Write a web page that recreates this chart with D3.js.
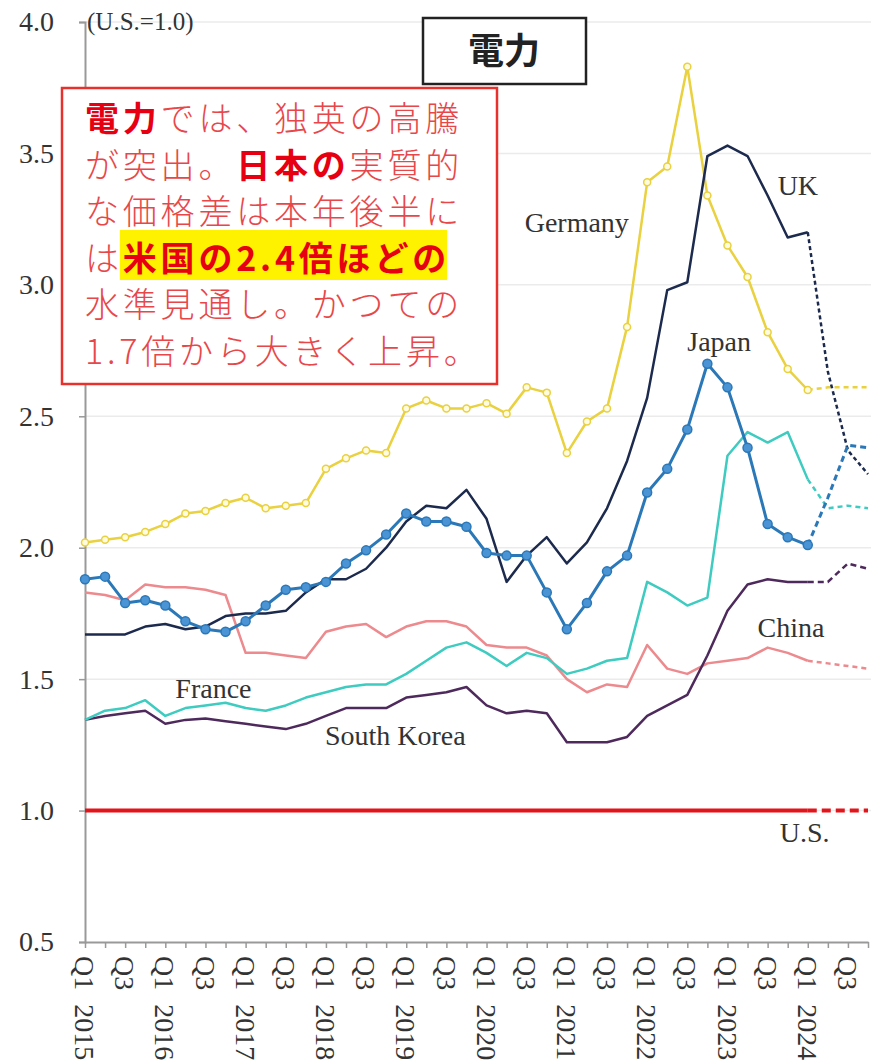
<!DOCTYPE html>
<html lang="ja">
<head>
<meta charset="UTF-8">
<title>電力</title>
<script src="https://d3js.org/d3.v7.min.js"></script>
<style>
  body { margin: 0; background: #fff; }
  .serif { font-family: "Liberation Serif", "DejaVu Serif", serif; fill: #333; }
  .note { font-family: "Noto Sans CJK JP", sans-serif; font-size: 34px; font-weight: 300; letter-spacing: 3.8px; fill: #e8474a; }
  .note .em { font-weight: bold; fill: #e60012; }
</style>
</head>
<body>
<div id="chart"></div>
<script>

// categories
var years = [2015, 2016, 2017, 2018, 2019, 2020, 2021, 2022, 2023, 2024];
var quarterNames = ["Q1", "Q2", "Q3", "Q4"];
var quarters = [];
years.forEach(function(yr) {
  quarterNames.forEach(function(q) { quarters.push(q + " " + yr); });
});

var yTicks = [0.5, 1.0, 1.5, 2.0, 2.5, 3.0, 3.5, 4.0];

// relative electricity price (U.S.=1.0), Q1 2015 .. Q4 2024
var germany = [2.02, 2.03, 2.04, 2.06, 2.09, 2.13, 2.14, 2.17, 2.19, 2.15, 2.16, 2.17,
               2.30, 2.34, 2.37, 2.36, 2.53, 2.56, 2.53, 2.53, 2.55, 2.51, 2.61, 2.59,
               2.36, 2.48, 2.53, 2.84, 3.39, 3.45, 3.83, 3.34, 3.15, 3.03, 2.82, 2.68,
               2.60, 2.61, 2.61, 2.61];
var uk = [1.67, 1.67, 1.67, 1.70, 1.71, 1.69, 1.70, 1.74, 1.75, 1.75, 1.76, 1.83,
          1.88, 1.88, 1.92, 2.00, 2.10, 2.16, 2.15, 2.22, 2.11, 1.87, 1.97, 2.04,
          1.94, 2.02, 2.15, 2.33, 2.57, 2.98, 3.01, 3.49, 3.53, 3.49, 3.34, 3.18,
          3.20, 2.67, 2.37, 2.28];
var japan = [1.88, 1.89, 1.79, 1.80, 1.78, 1.72, 1.69, 1.68, 1.72, 1.78, 1.84, 1.85,
             1.87, 1.94, 1.99, 2.05, 2.13, 2.10, 2.10, 2.08, 1.98, 1.97, 1.97, 1.83,
             1.69, 1.79, 1.91, 1.97, 2.21, 2.30, 2.45, 2.70, 2.61, 2.38, 2.09, 2.04,
             2.01, 2.19, 2.39, 2.38];
var france = [1.345, 1.38, 1.39, 1.42, 1.36, 1.39, 1.40, 1.41, 1.39, 1.38, 1.40, 1.43,
              1.45, 1.47, 1.48, 1.48, 1.52, 1.57, 1.62, 1.64, 1.60, 1.55, 1.60, 1.58,
              1.52, 1.54, 1.57, 1.58, 1.87, 1.83, 1.78, 1.81, 2.35, 2.44, 2.40, 2.44,
              2.26, 2.15, 2.16, 2.15];
var china = [1.83, 1.82, 1.80, 1.86, 1.85, 1.85, 1.84, 1.82, 1.60, 1.60, 1.59, 1.58,
             1.68, 1.70, 1.71, 1.66, 1.70, 1.72, 1.72, 1.70, 1.63, 1.62, 1.62, 1.59,
             1.50, 1.45, 1.48, 1.47, 1.63, 1.54, 1.52, 1.56, 1.57, 1.58, 1.62, 1.60,
             1.57, 1.56, 1.55, 1.54];
var southKorea = [1.345, 1.36, 1.37, 1.38, 1.33, 1.345, 1.35, 1.34, 1.33, 1.32, 1.31, 1.33,
                  1.36, 1.39, 1.39, 1.39, 1.43, 1.44, 1.45, 1.47, 1.40, 1.37, 1.38, 1.37,
                  1.26, 1.26, 1.26, 1.28, 1.36, 1.40, 1.44, 1.59, 1.76, 1.86, 1.88, 1.87,
                  1.87, 1.87, 1.94, 1.92];
var us = quarters.map(function() { return 1.0; });

// Q1 2024 onwards is projection (dashed)
var forecastFrom = 36;

var width = 884, height = 1064;

var svg = d3.select("#chart").append("svg")
    .attr("width", width)
    .attr("height", height);

var x = d3.scalePoint().domain(quarters).range([85, 868]);
var y = d3.scaleLinear().domain([0.5, 4.0]).range([942, 22]);

function xAt(q) { return x(quarters[0]) + q * x.step(); }

// gridlines
svg.append("g")
  .selectAll("line")
  .data(yTicks.slice(1))
  .enter().append("line")
    .attr("x1", x.range()[0]).attr("x2", x.range()[1] + 3)
    .attr("y1", function(d) { return y(d); })
    .attr("y2", function(d) { return y(d); })
    .style("stroke", "#ebebeb")
    .style("stroke-width", 1.5);

// y axis
var yAxis = svg.append("g")
    .attr("transform", "translate(" + x.range()[0] + ",0)")
    .call(d3.axisLeft(y).tickValues(yTicks).tickFormat(d3.format(".1f")).tickSize(6).tickPadding(25));
yAxis.select(".domain").style("stroke", "#999").style("stroke-width", 2);
yAxis.selectAll(".tick line").style("stroke", "#999").style("stroke-width", 1.5);
yAxis.selectAll("text")
    .style("font-family", "'Liberation Serif', serif")
    .style("font-size", "28px")
    .style("fill", "#333");

// x axis
var xAxis = svg.append("g")
    .attr("transform", "translate(0," + y(0.5) + ")")
    .call(d3.axisBottom(x).tickFormat("").tickSize(6).tickSizeOuter(0));
xAxis.select(".domain").style("stroke", "#999").style("stroke-width", 2);
xAxis.selectAll(".tick line").style("stroke", "#999").style("stroke-width", 1.5);

var xLabels = svg.append("g")
  .selectAll("g")
  .data(quarters.filter(function(q) { return q.indexOf("Q1") === 0 || q.indexOf("Q3") === 0; }))
  .enter().append("g")
    .attr("transform", function(d) { return "translate(" + x(d) + "," + (y(0.5) + 14) + ") rotate(90)"; });
var xText = xLabels.append("text")
    .attr("class", "serif")
    .attr("dy", "0.35em")
    .style("font-size", "28px")
    .text(function(d) { return d.split(" ")[0]; });
xText.filter(function(d) { return d.indexOf("Q1") === 0; })
  .append("tspan")
    .attr("dx", 14)
    .text(function(d) { return d.split(" ")[1]; });

svg.append("text")
    .attr("class", "serif")
    .attr("x", 87).attr("y", 30)
    .style("font-size", "25px")
    .text("(U.S.=1.0)");

// series
var series = [
  {name: "China", values: china, color: "#ec8a8e", width: 2.5, dash: "5,4"},
  {name: "South Korea", values: southKorea, color: "#4e2a5c", width: 2.5, dash: "6,4"},
  {name: "France", values: france, color: "#3ecbc0", width: 2.5, dash: "5,4"},
  {name: "Germany", values: germany, color: "#e9d13f", width: 2.5, dash: "5,4", marker: "hollow"},
  {name: "UK", values: uk, color: "#1c2a4e", width: 2.5, dash: "4,3"},
  {name: "Japan", values: japan, color: "#2b78b8", width: 3, dash: "6,4", marker: "filled"},
  {name: "U.S.", values: us, color: "#e4141b", width: 4, dash: "9,5"}
];

var line = d3.line()
    .x(function(d) { return x(quarters[d.i]); })
    .y(function(d) { return y(d.v); });

series.forEach(function(s) {
  var pts = s.values.map(function(v, i) { return {i: i, v: v}; });
  var g = svg.append("g");
  g.append("path")
      .datum(pts.slice(0, forecastFrom + 1))
      .attr("d", line)
      .style("fill", "none")
      .style("stroke", s.color)
      .style("stroke-width", s.width)
      .style("stroke-linejoin", "round");
  g.append("path")
      .datum(pts.slice(forecastFrom))
      .attr("d", line)
      .style("fill", "none")
      .style("stroke", s.color)
      .style("stroke-width", s.width)
      .style("stroke-dasharray", s.dash);
  if (s.marker) {
    g.selectAll("circle")
      .data(pts.slice(0, forecastFrom + 1))
      .enter().append("circle")
        .attr("cx", function(d) { return x(quarters[d.i]); })
        .attr("cy", function(d) { return y(d.v); })
        .attr("r", s.marker === "filled" ? 4.5 : 3.5)
        .style("fill", s.marker === "filled" ? "#4a93d4" : "#fffbe0")
        .style("stroke", s.color)
        .style("stroke-width", 1.5);
  }
});

// series labels
var labels = [
  {text: "Germany", q: 21.9, v: 3.2},
  {text: "UK", q: 34.5, v: 3.34},
  {text: "Japan", q: 30.0, v: 2.75},
  {text: "China", q: 33.5, v: 1.66},
  {text: "France", q: 4.5, v: 1.43},
  {text: "South Korea", q: 11.95, v: 1.25},
  {text: "U.S.", q: 34.6, v: 0.88}
];
svg.append("g")
  .selectAll("text")
  .data(labels)
  .enter().append("text")
    .attr("class", "serif")
    .attr("x", function(d) { return xAt(d.q); })
    .attr("y", function(d) { return y(d.v); })
    .style("font-size", "28px")
    .text(function(d) { return d.text; });

// title box
svg.append("rect")
    .attr("x", 423).attr("y", 18).attr("width", 163).attr("height", 66)
    .style("fill", "#fff").style("stroke", "#222").style("stroke-width", 2.5);
svg.append("text")
    .attr("x", 504).attr("y", 64)
    .attr("text-anchor", "middle")
    .style("font-family", "'Noto Sans CJK JP', sans-serif")
    .style("font-size", "36px").style("font-weight", "bold").style("fill", "#222")
    .text("電力");

// note box
svg.append("rect")
    .attr("x", 62).attr("y", 88).attr("width", 435).attr("height", 296)
    .style("fill", "#fff").style("stroke", "#e8302c").style("stroke-width", 2.5);

var noteLines = [
  [["電力", true], ["では、独英の高騰", false]],
  [["が突出。", false], ["日本の", true], ["実質的", false]],
  [["な価格差は本年後半に", false]],
  [["は", false], ["米国の2.4倍ほどの", true]],
  [["水準見通し。かつての", false]],
  [["1.7倍から大きく上昇。", false]]
];

noteLines.forEach(function(parts, k) {
  var t = svg.append("text")
      .attr("class", "note")
      .attr("x", 85)
      .attr("y", 131 + k * 46.6);
  parts.forEach(function(p) {
    t.append("tspan").attr("class", p[1] ? "em" : null).text(p[0]);
  });
  // yellow highlight behind the 2.4x phrase
  if (k === 3) {
    var node = t.node();
    var start = parts[0][0].length;
    var end = start + parts[1][0].length - 1;
    var a = node.getExtentOfChar(start), b = node.getExtentOfChar(end);
    svg.insert("rect", function() { return node; })
        .attr("x", a.x - 3).attr("y", 230)
        .attr("width", b.x + b.width - a.x)
        .attr("height", 50)
        .style("fill", "#fff200");
  }
});

</script>
</body>
</html>
